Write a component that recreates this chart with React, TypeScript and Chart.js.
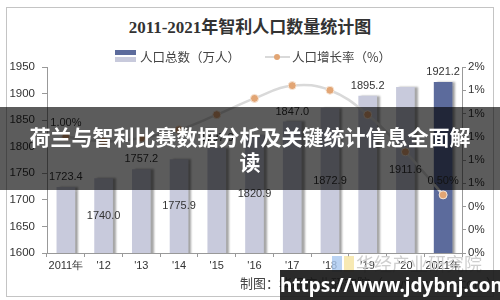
import React, { useEffect, useRef } from "react";
import { Chart, registerables } from "chart.js";

Chart.register(...registerables);

const years = ["2011年", "'12", "'13", "'14", "'15", "'16", "'17", "'18", "'19", "'20", "2021年"];
const population = [1723.4, 1740.0, 1757.2, 1775.9, 1797.0, 1820.9, 1847.0, 1872.9, 1895.2, 1911.6, 1921.2];
const growthRate = [1.0, 0.96, 0.99, 1.06, 1.19, 1.33, 1.44, 1.4, 1.19, 0.87, 0.5];
const barColors = ["#c8cadc", "#c8cadc", "#c8cadc", "#c8cadc", "#c8cadc", "#c8cadc", "#c8cadc", "#c8cadc", "#c8cadc", "#c8cadc", "#5c6b9c"];

const TICK_FONT = { family: "'Liberation Sans', Arial, sans-serif", size: 11.5 };

const barShadow = {
  id: "barShadow",
  beforeDatasetDraw(chart: any, args: any) {
    if (args.index === 0) {
      const ctx = chart.ctx;
      ctx.save();
      ctx.shadowColor = "rgba(0,0,0,0.35)";
      ctx.shadowOffsetX = 3;
      ctx.shadowOffsetY = 0;
      ctx.shadowBlur = 2;
    }
  },
  afterDatasetDraw(chart: any, args: any) {
    if (args.index === 0) chart.ctx.restore();
  },
};

const valueLabels = {
  id: "valueLabels",
  afterDatasetsDraw(chart: any) {
    const ctx = chart.ctx;
    ctx.save();
    ctx.shadowColor = "transparent";
    ctx.fillStyle = "#333";
    ctx.font = "11px 'Liberation Sans', Arial, sans-serif";
    ctx.textAlign = "center";
    ctx.textBaseline = "middle";
    const yScale = chart.scales.y;
    const bars = chart.getDatasetMeta(0).data;
    bars.forEach((bar: any, i: number) => {
      const top = yScale.getPixelForValue(population[i]);
      const base = yScale.getPixelForValue(yScale.min);
      const y = i % 2 === 0 ? top - 10 : (top + base) / 2;
      ctx.fillText(population[i].toFixed(1), bar.x, y);
    });
    const pts = chart.getDatasetMeta(1).data;
    [0, pts.length - 1].forEach((i) => {
      const p = pts[i];
      ctx.fillText(growthRate[i].toFixed(2) + "%", p.x, p.y - 14);
    });
    ctx.restore();
  },
};

export default function App() {
  const ref = useRef<HTMLCanvasElement | null>(null);
  useEffect(() => {
    if (!ref.current) return;
    const chart = new Chart(ref.current, {
      type: "bar",
      data: {
        labels: years,
        datasets: [
          {
            type: "bar",
            label: "人口总数（万人）",
            data: population,
            backgroundColor: barColors,
            barThickness: 18,
            yAxisID: "y",
            order: 2,
          },
          {
            type: "line",
            label: "人口增长率（%）",
            data: growthRate,
            borderColor: "#d9d9d9",
            borderWidth: 2.5,
            tension: 0.4,
            pointRadius: 4,
            pointBackgroundColor: "#e2a574",
            pointBorderColor: "#f6e6d8",
            pointBorderWidth: 1,
            yAxisID: "y1",
            order: 1,
          } as any,
        ],
      },
      options: {
        animation: false,
        responsive: false,
        layout: { padding: { top: 67, left: 0, right: 0, bottom: 0 } },
        plugins: { legend: { display: false }, title: { display: false }, tooltip: { enabled: false } },
        scales: {
          x: {
            offset: true,
            grid: { offset: true, drawOnChartArea: false, color: "#999", tickLength: 4 },
            border: { color: "#999" },
            ticks: { color: "#333", font: { ...TICK_FONT, size: 11 }, padding: 2, maxRotation: 0, autoSkip: false },
            afterFit(scale: any) { scale.height = 47; },
          },
          y: {
            position: "left",
            min: 1600,
            max: 1950,
            ticks: { stepSize: 50, color: "#333", font: TICK_FONT, padding: 7, callback: (v: any) => String(v) },
            grid: { drawOnChartArea: false, color: "#999", tickLength: 5 },
            border: { color: "#999" },
            afterFit(scale: any) { scale.width = 47; },
          },
          y1: {
            position: "right",
            min: 0,
            max: 1.6,
            ticks: {
              stepSize: 0.2,
              color: "#333",
              font: TICK_FONT,
              padding: 2,
              callback: (v: any) => Math.round(Number(v)) + "%",
            },
            grid: { drawOnChartArea: false, color: "#999", tickLength: 4 },
            border: { color: "#999" },
            afterFit(scale: any) { scale.width = 38; },
          },
        },
      },
      plugins: [barShadow, valueLabels],
    });
    return () => chart.destroy();
  }, []);

  const cjk = "'Noto Sans CJK SC', 'Noto Sans', sans-serif";
  return (
    <div style={{ position: "fixed", left: 0, top: 0, width: 500, height: 300, background: "#fff", overflow: "hidden" }}>
      <div style={{ position: "absolute", left: 6, top: 7, width: 488, height: 290, border: "1px solid #c4c4c4", boxSizing: "border-box" }} />
      <div style={{ position: "absolute", left: 0, top: 17, width: 500, textAlign: "center", fontFamily: "'Liberation Serif', 'Noto Sans CJK SC', serif", fontWeight: "bold", fontSize: 17, lineHeight: "22px", color: "#333" }}>
        2011-2021年智利人口数量统计图
      </div>
      <canvas ref={ref} width={500} height={300} style={{ position: "absolute", left: 0, top: 0, width: 500, height: 300 }} />
      {/* legend */}
      <div style={{ position: "absolute", left: 115, top: 50, width: 21, height: 5, background: "#5c6b9c" }} />
      <div style={{ position: "absolute", left: 115, top: 57, width: 21, height: 5, background: "#c8cadc" }} />
      <div style={{ position: "absolute", left: 140, top: 48, fontFamily: cjk, fontSize: 12.5, lineHeight: "18px", color: "#444", whiteSpace: "nowrap" }}>人口总数（万人）</div>
      <div style={{ position: "absolute", left: 265, top: 56, width: 25, height: 2, background: "#d9d9d9" }} />
      <div style={{ position: "absolute", left: 274, top: 54, width: 6, height: 6, borderRadius: 3, background: "#e2a574" }} />
      <div style={{ position: "absolute", left: 292, top: 48, fontFamily: cjk, fontSize: 12.5, lineHeight: "18px", color: "#444", whiteSpace: "nowrap" }}>人口增长率（%）</div>
      {/* watermark + source */}
      <div style={{ position: "absolute", left: 332, top: 256, width: 10, height: 16, background: "#a9c8f0", opacity: 0.8 }} />
      <div style={{ position: "absolute", left: 344, top: 256, width: 10, height: 16, background: "#f5e3a0", opacity: 0.8 }} />
      <div style={{ position: "absolute", left: 356, top: 252, fontFamily: cjk, fontSize: 18, lineHeight: "22px", color: "#cfcfcf", whiteSpace: "nowrap" }}>华经产业研究院</div>
      <div style={{ position: "absolute", left: 240, top: 274, fontFamily: cjk, fontSize: 13, lineHeight: "18px", color: "#444", whiteSpace: "nowrap" }}>制图：华经产业研究院（www.huaon.com）</div>
      {/* overlay band */}
      <div style={{ position: "absolute", left: 0, top: 107, width: 500, height: 83, background: "rgba(0,0,0,0.64)", display: "flex", alignItems: "center", justifyContent: "center", textAlign: "center", color: "#fff", fontFamily: cjk, fontWeight: "bold", fontSize: 21, lineHeight: "25px" }}>
        <div>荷兰与智利比赛数据分析及关键统计信息全面解<br />读</div>
      </div>
      <div style={{ position: "absolute", left: 280, top: 270, width: 220, height: 30, background: "rgba(25,25,25,0.92)", color: "#fff", fontFamily: "'Noto Sans', 'DejaVu Sans', sans-serif", fontWeight: "bold", fontSize: 19, lineHeight: "30px", textAlign: "center", whiteSpace: "nowrap" }}>
        https://www.jdybnj.com
      </div>
    </div>
  );
}
